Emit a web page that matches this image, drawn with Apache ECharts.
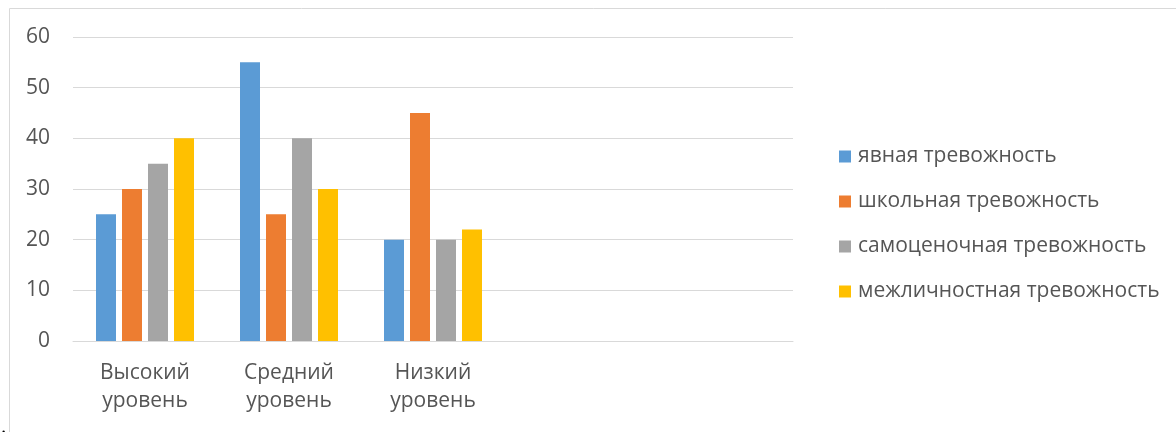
<!DOCTYPE html>
<html>
<head>
<meta charset="utf-8">
<script src="https://cdn.jsdelivr.net/npm/echarts@6/dist/echarts.min.js"></script>
<style>
html,body{margin:0;padding:0;background:#fff;}
#c{width:1176px;height:432px;}
</style>
</head>
<body>
<div id="c"></div>
<script>
var categories = ['Высокий\nуровень', 'Средний\nуровень', 'Низкий\nуровень', '', ''];
var seriesNames = ['явная тревожность', 'школьная тревожность', 'самоценочная тревожность', 'межличностная тревожность'];
var explicitAnxiety = [25, 55, 20, null, null];
var schoolAnxiety = [30, 25, 45, null, null];
var selfEsteemAnxiety = [35, 40, 20, null, null];
var interpersonalAnxiety = [40, 30, 22, null, null];
var yTicks = [0, 10, 20, 30, 40, 50, 60];

var colors = ['#5B9BD5', '#ED7D31', '#A5A5A5', '#FFC000'];
var values = [explicitAnxiety, schoolAnxiety, selfEsteemAnxiety, interpersonalAnxiety];
var font = '"Open Sans", "Noto Sans", sans-serif';

var chart = echarts.init(document.getElementById('c'), null, {renderer: 'canvas'});
chart.setOption({
  animation: false,
  color: colors,
  grid: {left: 73, right: 383, top: 37, bottom: 91, containLabel: false},
  legend: {
    orient: 'vertical',
    left: 834,
    top: 141,
    itemWidth: 12,
    itemHeight: 12,
    itemGap: 24,
    icon: 'rect',
    data: seriesNames,
    textStyle: {color: '#555555', fontSize: 21, lineHeight: 21, fontFamily: font, padding: [0, 0, 0, 2]}
  },
  xAxis: {
    type: 'category',
    data: categories,
    axisLine: {lineStyle: {color: '#d9d9d9', width: 1}},
    axisTick: {show: false},
    axisLabel: {color: '#555555', fontSize: 21, lineHeight: 28, fontFamily: font, margin: 18, interval: 0}
  },
  yAxis: {
    type: 'value',
    min: yTicks[0],
    max: yTicks[yTicks.length - 1],
    interval: 10,
    axisLine: {show: false},
    axisTick: {show: false},
    splitLine: {lineStyle: {color: '#d9d9d9', width: 1}},
    axisLabel: {color: '#555555', fontSize: 21, fontFamily: font, margin: 23}
  },
  series: seriesNames.map(function (n, i) {
    return {
      name: n,
      type: 'bar',
      data: values[i],
      barWidth: 20,
      barGap: '30%',
      itemStyle: {color: colors[i]}
    };
  }),
  graphic: [
    {type: 'rect', shape: {x: 9.5, y: 8.5, width: 1300, height: 600}, style: {fill: 'none', stroke: '#d9d9d9', lineWidth: 1}, silent: true},
    {type: 'text', left: 1, top: 417, style: {text: '.', fill: '#000', fontSize: 20, fontFamily: font}}
  ]
});
</script>
</body>
</html>
